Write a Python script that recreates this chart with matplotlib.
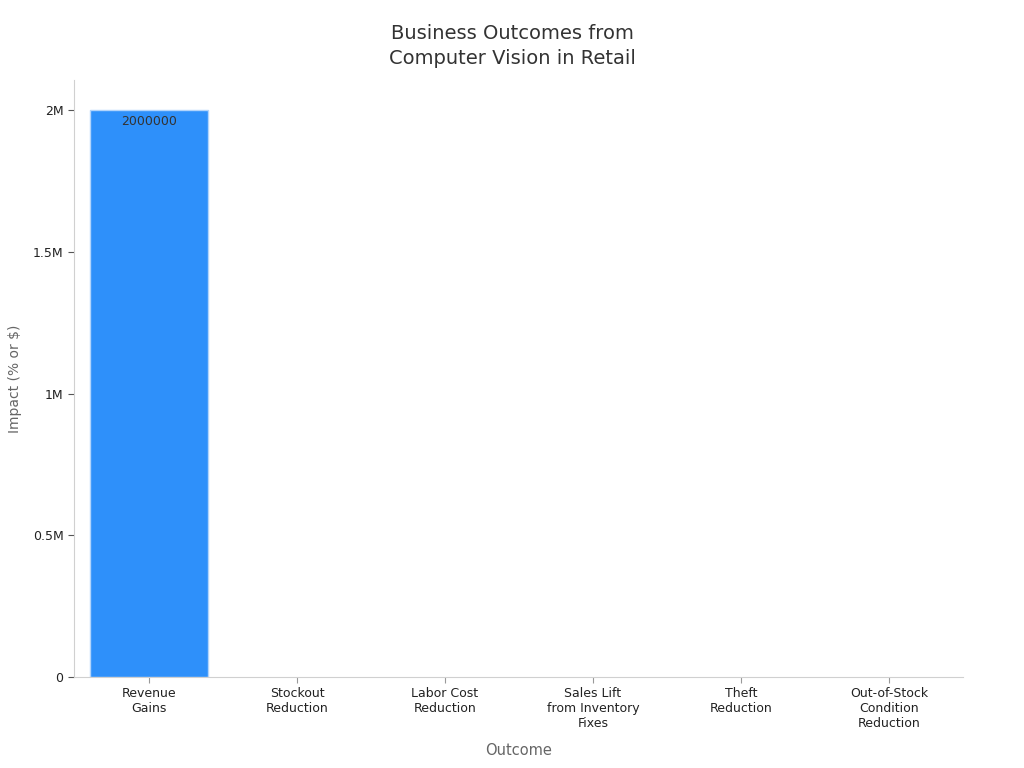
import matplotlib.pyplot as plt
import numpy as np
from matplotlib.ticker import FuncFormatter

categories = ["Revenue\nGains", "Stockout\nReduction", "Labor Cost\nReduction",
              "Sales Lift\nfrom Inventory\nFixes", "Theft\nReduction",
              "Out-of-Stock\nCondition\nReduction"]
values = [2000000, 65, 30, 10, 25, 80]

fig = plt.figure(figsize=(10.24, 7.68), dpi=100)
ax = fig.add_axes([74/1024, 1-677/768, 889/1024, 597/768])

x = np.arange(len(categories))
bars = ax.bar(x, values, width=0.8, color="#2E90FA", edgecolor="#B2D4FB", linewidth=1)

# only the big bar has a readable label, tiny bars get no edge
for b, v in zip(bars, values):
    if v > 100000:
        ax.text(b.get_x() + b.get_width()/2, v - 18000, str(v), ha="center", va="top",
                fontsize=9, color="#333333")
    else:
        b.set_linewidth(0)

def fmt(v, pos):
    if v == 0:
        return "0"
    m = v / 1e6
    return ("%gM" % m)

ax.yaxis.set_major_formatter(FuncFormatter(fmt))
ax.set_yticks([0, 500000, 1000000, 1500000, 2000000])
ax.set_ylim(0, 2106000)
ax.set_xlim(-0.507, 5.5)
ax.set_xticks(x)
ax.set_xticklabels(categories, fontsize=9, color="#222222")
ax.tick_params(axis="y", labelsize=9, labelcolor="#222222", color="#555555", length=4)
ax.tick_params(axis="x", color="#999999", length=4)

for s in ["top", "right"]:
    ax.spines[s].set_visible(False)
for s in ["left", "bottom"]:
    ax.spines[s].set_color("#D0D0D0")

ax.set_xlabel("Outcome", fontsize=10.5, color="#666666", labelpad=9)
ax.set_ylabel("Impact (% or $)", fontsize=10, color="#666666", labelpad=8)
fig.text(0.5, 1-46/768, "Business Outcomes from\nComputer Vision in Retail", ha="center",
         va="center", fontsize=14, color="#333333", linespacing=1.35)

fig.savefig("out.png", dpi=100)
